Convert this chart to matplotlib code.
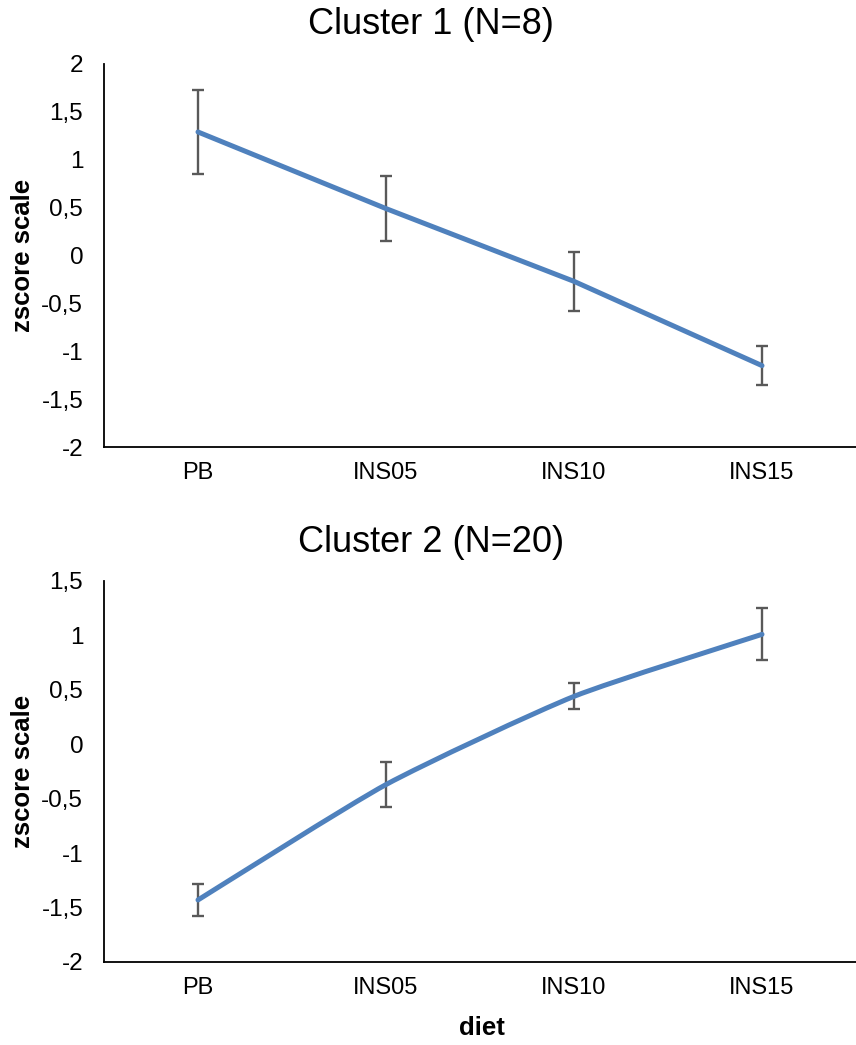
import matplotlib
matplotlib.use("Agg")
import matplotlib.pyplot as plt
from matplotlib.path import Path
from matplotlib.patches import PathPatch
import numpy as np

plt.rcParams['font.family'] = ['Liberation Sans', 'DejaVu Sans']

categories = ["PB", "INS05", "INS10", "INS15"]

c1_title = "Cluster 1 (N=8)"
c1_mean = [1.29, 0.49, -0.27, -1.15]
c1_err = [0.44, 0.34, 0.31, 0.20]
c1_yticks = [-2, -1.5, -1, -0.5, 0, 0.5, 1, 1.5, 2]

c2_title = "Cluster 2 (N=20)"
c2_mean = [-1.43, -0.37, 0.44, 1.01]
c2_err = [0.15, 0.21, 0.12, 0.24]
c2_yticks = [-2, -1.5, -1, -0.5, 0, 0.5, 1, 1.5]

LINE_COLOR = "#4F81BD"
ERR_COLOR = "#595959"
W, H = 856, 1045


def fmt(v):
    return ("%g" % v).replace(".", ",")


def smooth_path(x, y, t=0.1):
    # Catmull-Rom style Bezier through the data points (Excel "smoothed line")
    x = np.asarray(x, float)
    y = np.asarray(y, float)
    n = len(x)
    verts = [(x[0], y[0])]
    codes = [Path.MOVETO]
    for i in range(n - 1):
        p0 = (x[max(i - 1, 0)], y[max(i - 1, 0)])
        p1 = (x[i], y[i])
        p2 = (x[i + 1], y[i + 1])
        p3 = (x[min(i + 2, n - 1)], y[min(i + 2, n - 1)])
        c1 = (p1[0] + (p2[0] - p0[0]) * t, p1[1] + (p2[1] - p0[1]) * t)
        c2 = (p2[0] - (p3[0] - p1[0]) * t, p2[1] - (p3[1] - p1[1]) * t)
        verts += [c1, c2, p2]
        codes += [Path.CURVE4] * 3
    return Path(verts, codes)


fig = plt.figure(figsize=(W / 100, H / 100), dpi=100)


def make_panel(rect_px, title, title_y, mean, err, yticks, smooth):
    left, top, right, bottom = rect_px
    ax = fig.add_axes([left / W, 1 - bottom / H, (right - left) / W, (bottom - top) / H])
    x = np.arange(len(categories))
    if smooth:
        ax.add_patch(PathPatch(smooth_path(x, mean), facecolor="none",
                               edgecolor=LINE_COLOR, lw=3.6, capstyle="round", zorder=3))
    else:
        ax.plot(x, mean, color=LINE_COLOR, lw=3.6, solid_capstyle="round", zorder=3)
    ax.errorbar(x, mean, yerr=err, fmt="none", ecolor=ERR_COLOR, elinewidth=1.7,
                capsize=4.3, capthick=1.7, zorder=2)
    ax.set_xlim(-0.5, len(categories) - 0.5)
    ax.set_ylim(yticks[0], yticks[-1])
    ax.set_xticks(x)
    ax.set_xticklabels(categories, fontsize=17)
    ax.set_yticks(yticks)
    ax.set_yticklabels([fmt(v) for v in yticks], fontsize=17.5)
    ax.tick_params(length=0)
    ax.tick_params(axis="y", pad=15)
    ax.tick_params(axis="x", pad=11)
    for s in ["top", "right"]:
        ax.spines[s].set_visible(False)
    for s in ["left", "bottom"]:
        ax.spines[s].set_color("#000000")
        ax.spines[s].set_linewidth(1.3)
    fig.text(431 / W, 1 - title_y / H, title, fontsize=26, ha="center", va="center")
    fig.text(23 / W, 1 - (top + bottom) / 2 / H, "zscore scale", fontsize=18.5,
             fontweight="bold", rotation=90, ha="center", va="center")
    return ax


make_panel((104, 64, 856, 447), c1_title, 25, c1_mean, c1_err, c1_yticks, False)
make_panel((104, 581, 856, 962), c2_title, 543, c2_mean, c2_err, c2_yticks, True)
fig.text(482 / W, 1 - 1028 / H, "diet", fontsize=18.5, fontweight="bold",
         ha="center", va="center")

fig.savefig("out.png", dpi=100)
